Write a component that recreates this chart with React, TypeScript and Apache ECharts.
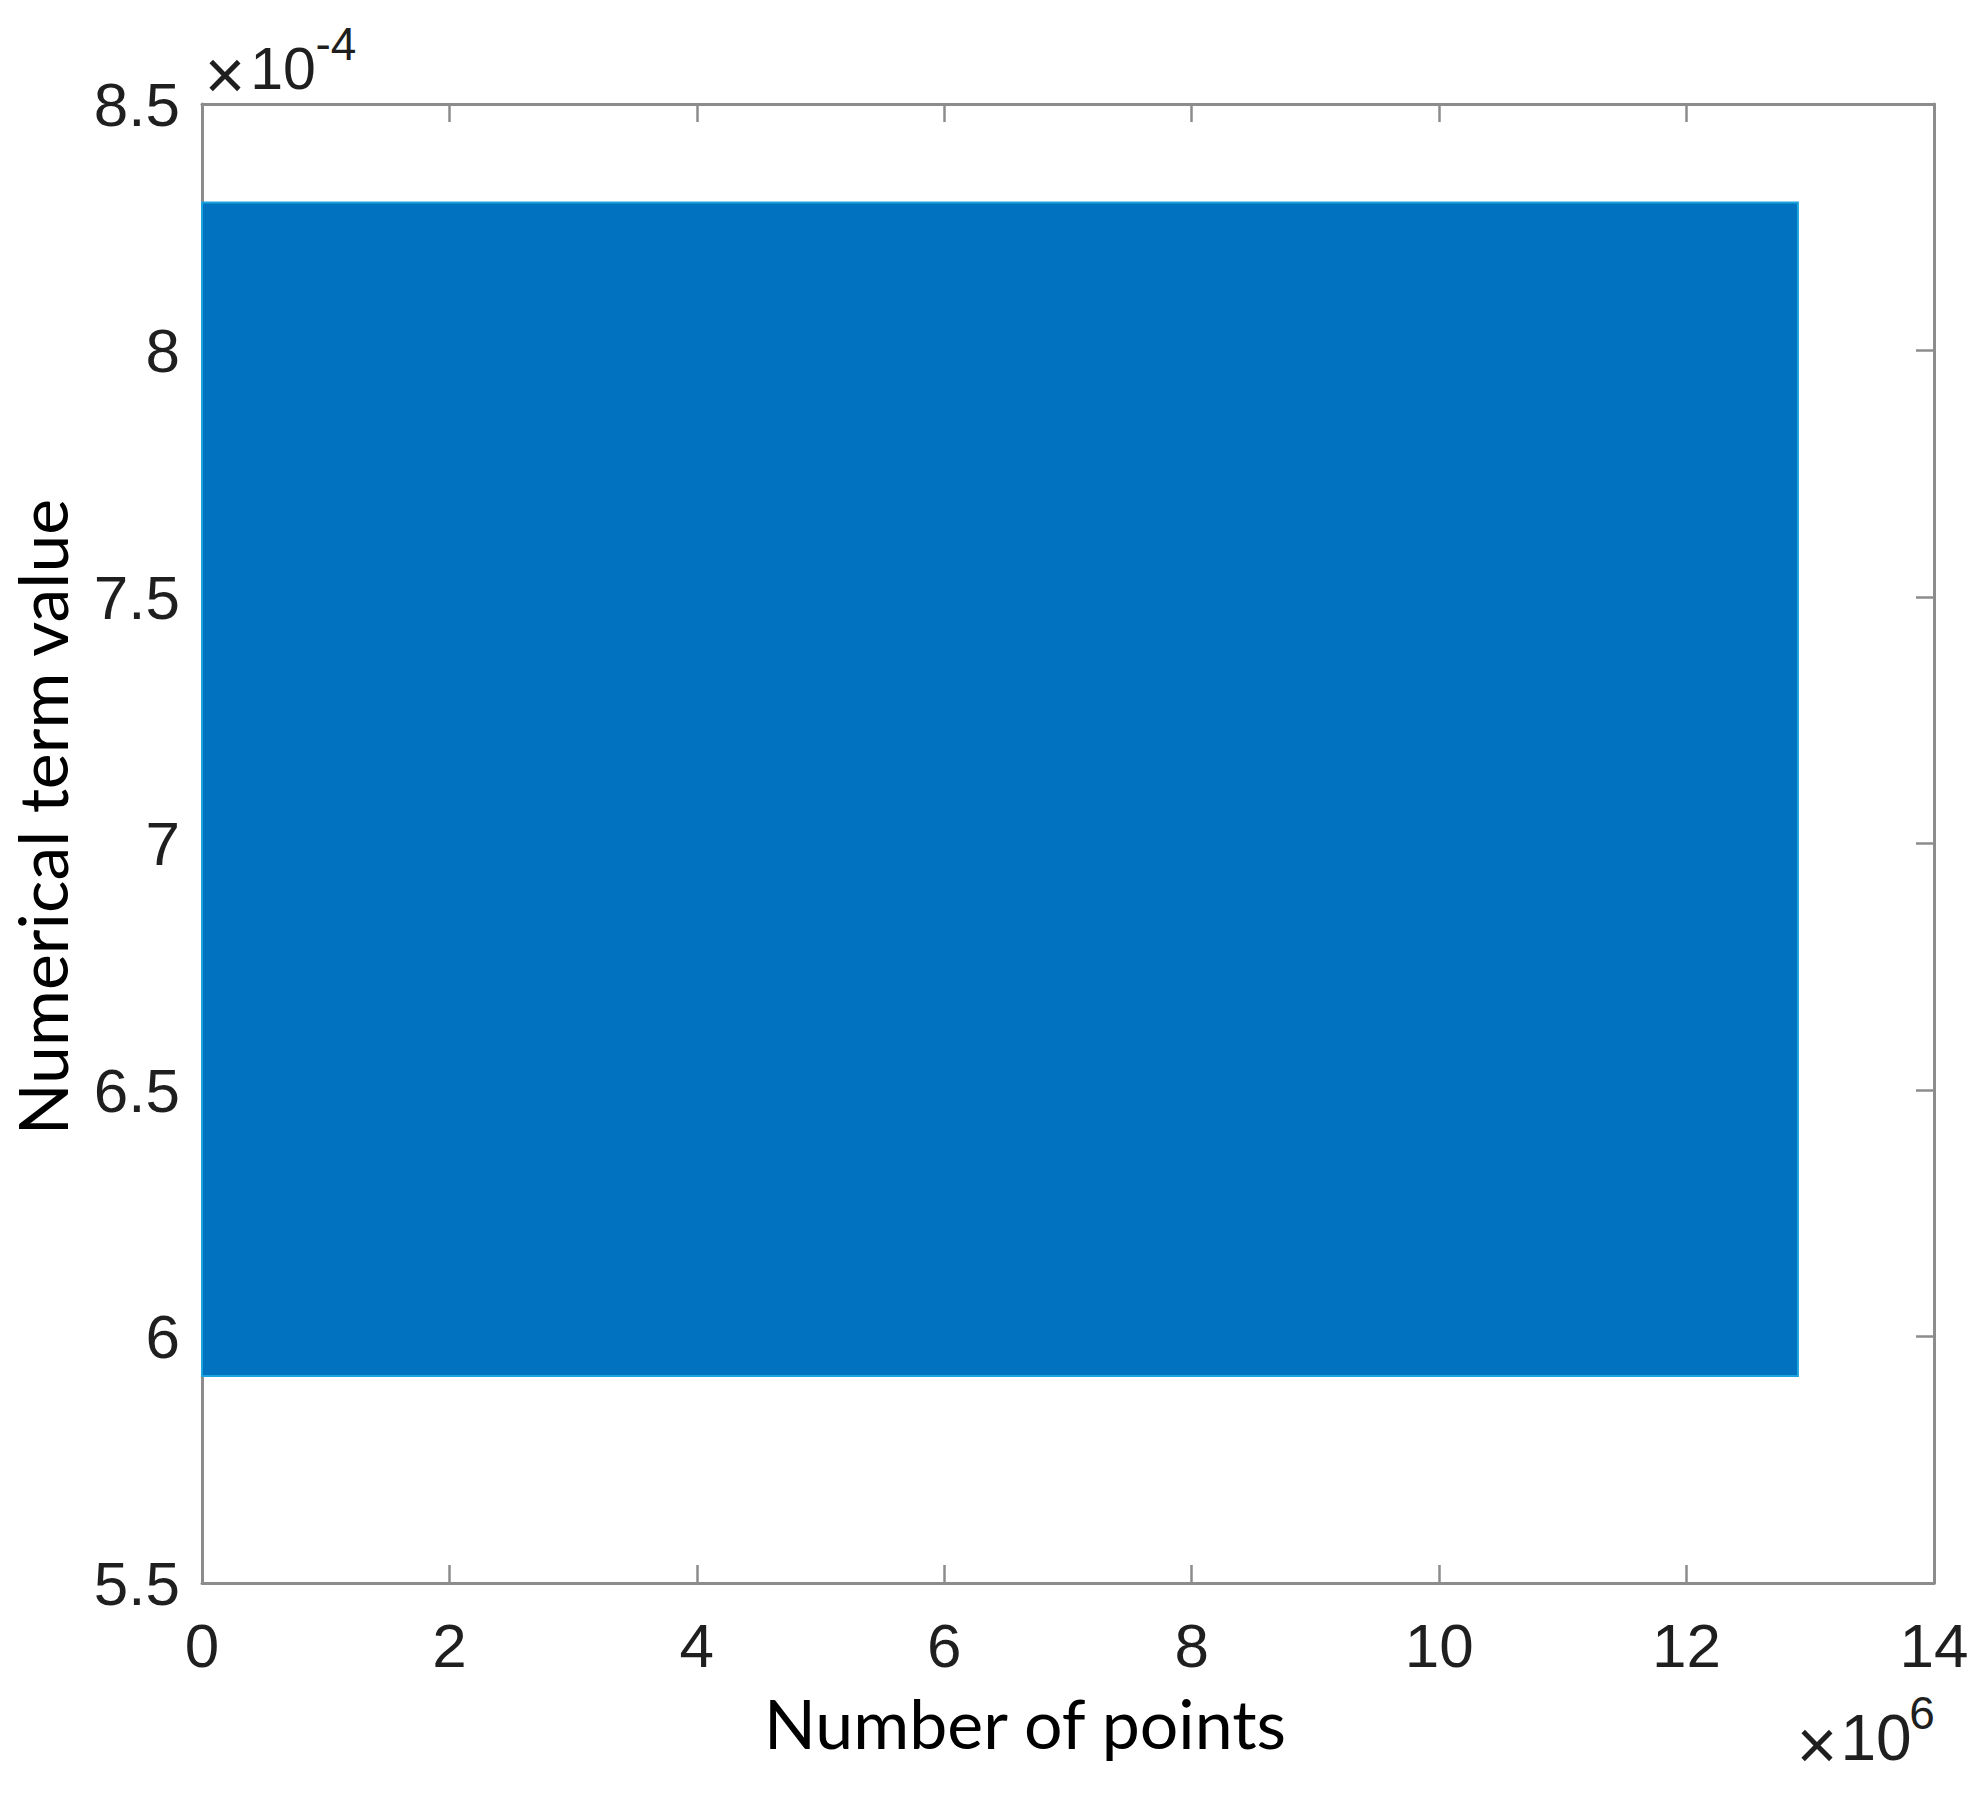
import React, { useEffect, useRef } from "react";
import * as echarts from "echarts";

// Number of points (×10^6) — extent of the sampled signal
const pointRange = [0, 12.9];
// Envelope of the numerical term value (×10^-4)
const envelopeLow = [5.92];
const envelopeHigh = [8.3];
// Axis ticks
const xTicks = [0, 2, 4, 6, 8, 10, 12, 14];
const yTicks = [5.5, 6, 6.5, 7, 7.5, 8, 8.5];

const AXIS_GRAY = "#8c8c8c";
const TEXT = "#1f1f1f";

export default function App() {
  const ref = useRef<HTMLDivElement>(null);
  useEffect(() => {
    document.body.style.margin = "0";
    const chart = echarts.init(ref.current!, undefined, { renderer: "svg" });
    const bandData = envelopeLow.map((lo, i) => [pointRange[0], pointRange[1], lo, envelopeHigh[i]]);
    const axisCommon = {
      type: "value",
      axisLine: { show: true, onZero: false, lineStyle: { color: AXIS_GRAY, width: 3 } },
      axisTick: { show: true, inside: true, length: 18, lineStyle: { color: AXIS_GRAY, width: 2.5 } },
      splitLine: { show: false },
    };
    const xMin = xTicks[0], xMax = xTicks[xTicks.length - 1], xInt = xTicks[1] - xTicks[0];
    const yMin = yTicks[0], yMax = yTicks[yTicks.length - 1], yInt = yTicks[1] - yTicks[0];
    const labelStyle = { fontSize: 62, color: TEXT, fontFamily: "Liberation Sans, Arial, sans-serif" };
    chart.setOption({
      animation: false,
      backgroundColor: "#ffffff",
      grid: { left: 202, right: 52, top: 104, bottom: 220, containLabel: false },
      xAxis: [
        { ...axisCommon, position: "bottom", min: xMin, max: xMax, interval: xInt,
          axisLabel: { ...labelStyle, margin: 31, showMinLabel: true, showMaxLabel: true } },
        { ...axisCommon, position: "top", min: xMin, max: xMax, interval: xInt, axisLabel: { show: false } },
      ],
      yAxis: [
        { ...axisCommon, position: "left", min: yMin, max: yMax, interval: yInt,
          axisLabel: { ...labelStyle, margin: 22, formatter: (v: number) => String(v) } },
        { ...axisCommon, position: "right", min: yMin, max: yMax, interval: yInt, axisLabel: { show: false } },
      ],
      series: [
        {
          type: "custom",
          xAxisIndex: 0,
          yAxisIndex: 0,
          encode: { x: [0, 1], y: [2, 3] },
          data: bandData,
          renderItem: (params: any, api: any) => {
            const p0 = api.coord([api.value(0), api.value(3)]);
            const p1 = api.coord([api.value(1), api.value(2)]);
            return {
              type: "rect",
              shape: { x: p0[0], y: p0[1], width: p1[0] - p0[0], height: p1[1] - p0[1] },
              style: { fill: "#0072BF", stroke: "#1AA3DC", lineWidth: 2 },
            };
          },
        },
      ],
      graphic: [
        { type: "text", x: 1025, y: 1722, style: { text: "Number of points", fontSize: 68, fontFamily: "Lato", fill: "#000", align: "center", verticalAlign: "middle" } },
        { type: "text", x: 41, y: 817, rotation: Math.PI / 2, style: { text: "Numerical term value", fontSize: 68, fontFamily: "Lato", fill: "#000", align: "center", verticalAlign: "middle" } },
        { type: "text", x: 225, y: 75, style: { text: "×", fontSize: 70, fontFamily: "Liberation Sans", fill: TEXT, align: "center", verticalAlign: "middle" } },
        { type: "text", x: 283, y: 69, style: { text: "10", fontSize: 59, fontFamily: "Liberation Sans", fill: TEXT, align: "center", verticalAlign: "middle" } },
        { type: "text", x: 336, y: 44, style: { text: "-4", fontSize: 46, fontFamily: "Liberation Sans", fill: TEXT, align: "center", verticalAlign: "middle" } },
        { type: "text", x: 1817, y: 1745, style: { text: "×", fontSize: 70, fontFamily: "Liberation Sans", fill: TEXT, align: "center", verticalAlign: "middle" } },
        { type: "text", x: 1876, y: 1738, style: { text: "10", fontSize: 64, fontFamily: "Liberation Sans", fill: TEXT, align: "center", verticalAlign: "middle" } },
        { type: "text", x: 1922, y: 1713, style: { text: "6", fontSize: 46, fontFamily: "Liberation Sans", fill: TEXT, align: "center", verticalAlign: "middle" } },
      ],
    });
    return () => chart.dispose();
  }, []);
  return <div ref={ref} style={{ width: 1986, height: 1803 }} />;
}
